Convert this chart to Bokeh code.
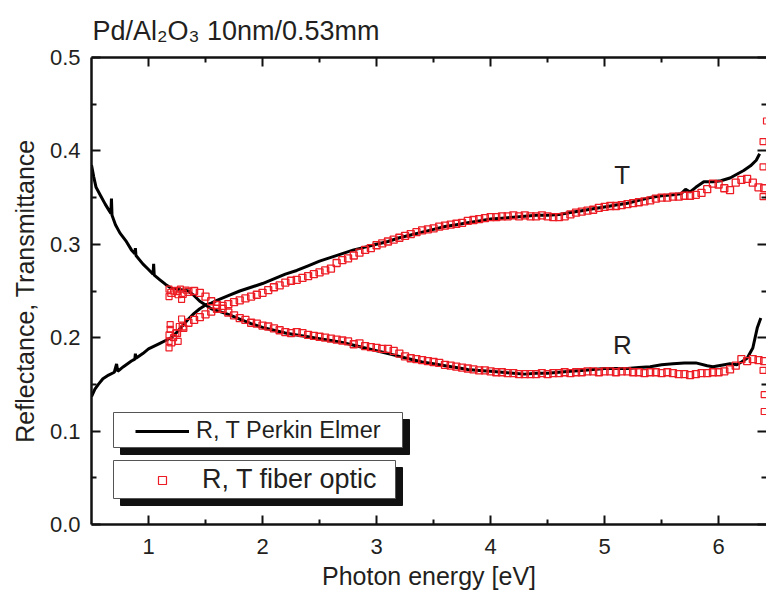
from bokeh.plotting import figure
from bokeh.models import (Range1d, FixedTicker, PrintfTickFormatter, LinearAxis,
                          Legend, LegendItem, Label, CustomJSTickFormatter)
from bokeh.embed import file_html
from bokeh.resources import INLINE

# ---------------- data ----------------
pe_R_energy = [0.50, 0.52, 0.54, 0.58, 0.62, 0.64, 0.67, 0.675, 0.68, 0.71, 0.75, 0.80,
               0.85, 0.88, 0.885, 0.89, 0.95, 1.00, 1.04, 1.045, 1.05, 1.10, 1.15, 1.20,
               1.25, 1.30, 1.35, 1.40, 1.45, 1.50, 1.55, 1.60, 1.70, 1.80, 1.90, 2.00,
               2.10, 2.20, 2.30, 2.40, 2.50, 2.60, 2.70, 2.80, 2.90, 3.00, 3.10, 3.20,
               3.30, 3.40, 3.50, 3.60, 3.70, 3.80, 3.90, 4.00, 4.10, 4.20, 4.30, 4.40,
               4.50, 4.60, 4.70, 4.80, 4.90, 5.00, 5.10, 5.20, 5.30, 5.40, 5.50, 5.60,
               5.70, 5.80, 5.90, 5.95, 6.00, 6.10, 6.16, 6.20, 6.25, 6.30, 6.34, 6.37]
pe_R = [0.385, 0.372, 0.361, 0.352, 0.343, 0.339, 0.333, 0.349, 0.331, 0.321, 0.312, 0.304,
        0.294, 0.290, 0.296, 0.288, 0.279, 0.273, 0.268, 0.279, 0.267, 0.262, 0.257, 0.253,
        0.252, 0.251, 0.250, 0.245, 0.239, 0.235, 0.231, 0.229, 0.225, 0.220, 0.215, 0.211,
        0.208, 0.205, 0.203, 0.201, 0.199, 0.197, 0.195, 0.192, 0.189, 0.186, 0.183, 0.180,
        0.177, 0.174, 0.172, 0.170, 0.168, 0.166, 0.165, 0.164, 0.163, 0.162, 0.161, 0.162,
        0.162, 0.163, 0.164, 0.165, 0.166, 0.167, 0.167, 0.167, 0.168, 0.169, 0.171, 0.172,
        0.173, 0.173, 0.170, 0.169, 0.170, 0.172, 0.171, 0.174, 0.178, 0.189, 0.211, 0.221]

pe_T_energy = [0.50, 0.53, 0.56, 0.60, 0.65, 0.70, 0.72, 0.73, 0.78, 0.85, 0.88, 0.885,
               0.89, 0.95, 1.00, 1.05, 1.10, 1.15, 1.20, 1.25, 1.30, 1.35, 1.40, 1.45,
               1.50, 1.55, 1.60, 1.70, 1.80, 1.90, 2.00, 2.10, 2.20, 2.30, 2.40, 2.50,
               2.60, 2.70, 2.80, 2.90, 3.00, 3.10, 3.20, 3.30, 3.40, 3.50, 3.60, 3.70,
               3.80, 3.90, 4.00, 4.10, 4.20, 4.30, 4.40, 4.50, 4.60, 4.70, 4.80, 4.90,
               5.00, 5.10, 5.20, 5.30, 5.40, 5.50, 5.60, 5.67, 5.71, 5.75, 5.80, 5.87,
               5.95, 6.02, 6.10, 6.16, 6.22, 6.28, 6.33, 6.36]
pe_T = [0.137, 0.145, 0.150, 0.156, 0.160, 0.163, 0.172, 0.164, 0.169, 0.175, 0.177, 0.183,
        0.178, 0.183, 0.188, 0.191, 0.194, 0.197, 0.200, 0.206, 0.213, 0.220, 0.226, 0.231,
        0.235, 0.237, 0.240, 0.245, 0.250, 0.254, 0.258, 0.263, 0.268, 0.272, 0.277, 0.282,
        0.286, 0.290, 0.294, 0.297, 0.300, 0.303, 0.307, 0.310, 0.313, 0.316, 0.319, 0.321,
        0.323, 0.325, 0.327, 0.328, 0.329, 0.330, 0.331, 0.331, 0.332, 0.334, 0.336, 0.338,
        0.340, 0.342, 0.344, 0.347, 0.350, 0.352, 0.353, 0.354, 0.359, 0.356, 0.361, 0.367,
        0.367, 0.368, 0.371, 0.375, 0.379, 0.384, 0.390, 0.397]

fiber_energy = [1.20, 1.25, 1.30, 1.35, 1.40, 1.45, 1.50, 1.55, 1.60, 1.65,
                1.70, 1.75, 1.80, 1.85, 1.90, 1.95, 2.00, 2.05, 2.10, 2.15,
                2.20, 2.25, 2.30, 2.35, 2.40, 2.45, 2.50, 2.55, 2.60, 2.65,
                2.70, 2.75, 2.80, 2.85, 2.90, 2.95, 3.00, 3.05, 3.10, 3.15,
                3.20, 3.25, 3.30, 3.35, 3.40, 3.45, 3.50, 3.55, 3.60, 3.65,
                3.70, 3.75, 3.80, 3.85, 3.90, 3.95, 4.00, 4.05, 4.10, 4.15,
                4.20, 4.25, 4.30, 4.35, 4.40, 4.45, 4.50, 4.55, 4.60, 4.65,
                4.70, 4.75, 4.80, 4.85, 4.90, 4.95, 5.00, 5.05, 5.10, 5.15,
                5.20, 5.25, 5.30, 5.35, 5.40, 5.45, 5.50, 5.55, 5.60, 5.65,
                5.70, 5.75, 5.80, 5.85, 5.90, 5.95, 6.00, 6.05, 6.10, 6.15,
                6.20, 6.25, 6.30, 6.35, 6.40]
fiber_R = [0.248, 0.250, 0.247, 0.249, 0.250, 0.248, 0.244, 0.239, 0.235, 0.231,
           0.227, 0.224, 0.221, 0.219, 0.216, 0.215, 0.213, 0.212, 0.210, 0.208,
           0.206, 0.205, 0.206, 0.205, 0.203, 0.202, 0.201, 0.200, 0.199, 0.198,
           0.197, 0.196, 0.193, 0.194, 0.191, 0.190, 0.189, 0.188, 0.188, 0.186,
           0.183, 0.180, 0.178, 0.177, 0.176, 0.175, 0.174, 0.173, 0.171, 0.170,
           0.169, 0.168, 0.167, 0.166, 0.165, 0.165, 0.164, 0.163, 0.163, 0.162,
           0.162, 0.161, 0.161, 0.161, 0.161, 0.162, 0.161, 0.162, 0.162, 0.163,
           0.162, 0.163, 0.163, 0.164, 0.164, 0.163, 0.164, 0.164, 0.163, 0.164,
           0.164, 0.163, 0.163, 0.162, 0.163, 0.163, 0.162, 0.163, 0.162, 0.161,
           0.161, 0.160, 0.161, 0.162, 0.162, 0.163, 0.163, 0.164, 0.166, 0.170,
           0.177, 0.175, 0.177, 0.176, 0.175]
fiber_T = [0.195, 0.205, 0.212, 0.216, 0.219, 0.222, 0.225, 0.228, 0.231, 0.234,
           0.236, 0.238, 0.240, 0.242, 0.244, 0.246, 0.248, 0.251, 0.254, 0.256,
           0.259, 0.261, 0.262, 0.264, 0.266, 0.268, 0.270, 0.272, 0.274, 0.280,
           0.283, 0.285, 0.288, 0.291, 0.294, 0.296, 0.299, 0.301, 0.303, 0.305,
           0.307, 0.309, 0.311, 0.313, 0.315, 0.316, 0.317, 0.319, 0.320, 0.321,
           0.322, 0.323, 0.325, 0.326, 0.327, 0.328, 0.329, 0.329, 0.330, 0.330,
           0.331, 0.330, 0.331, 0.330, 0.330, 0.331, 0.330, 0.329, 0.329, 0.330,
           0.332, 0.334, 0.335, 0.336, 0.337, 0.339, 0.340, 0.341, 0.341, 0.342,
           0.343, 0.344, 0.345, 0.346, 0.347, 0.349, 0.350, 0.350, 0.351, 0.351,
           0.352, 0.352, 0.353, 0.355, 0.359, 0.365, 0.364, 0.360, 0.358, 0.366,
           0.369, 0.370, 0.366, 0.361, 0.360]
# scattered fiber-optic points (start-up cluster near 1.2 eV and edge outliers)
fiber_extra_energy = [1.18, 1.18, 1.18, 1.19, 1.19, 1.22, 1.24, 1.26, 1.27, 1.29, 1.31,
                      1.18, 1.18, 1.22, 1.26, 1.28, 1.29, 1.33,
                      6.42, 6.39, 6.39, 6.39, 6.39, 6.40, 6.40]
fiber_extra_value = [0.189, 0.196, 0.203, 0.209, 0.214, 0.200, 0.205, 0.196, 0.212, 0.220, 0.210,
                     0.252, 0.244, 0.250, 0.246, 0.252, 0.241, 0.251,
                     0.432, 0.410, 0.383, 0.351, 0.165, 0.139, 0.121]

x_ticks = [1, 2, 3, 4, 5, 6]
x_minor = [1.5, 2.5, 3.5, 4.5, 5.5]
y_ticks = [0.0, 0.1, 0.2, 0.3, 0.4, 0.5]
y_minor = [0.05, 0.15, 0.25, 0.35, 0.45]

title_text = "Pd/Al\u2082O\u2083 10nm/0.53mm"
x_label = "Photon energy [eV]"
y_label = "Reflectance, Transmittance"
legend_pe = "R, T Perkin Elmer"
legend_fiber = "R, T fiber optic"

# ---------------- layout ----------------
FONT = "Liberation Sans"
TXT = "#231f20"
RED = "#ed1c24"
X0, X1 = 0.5, 6.42
Y0, Y1 = 0.0, 0.5
FL, FT, FW, FH = 91, 57, 675, 467
W, H = 766, 597


def dx(px):
    return X0 + (px - FL) * (X1 - X0) / FW


def dy(py):
    return Y1 - (py - FT) * (Y1 - Y0) / FH


p = figure(frame_width=FW, frame_height=FH,
           x_range=Range1d(X0, X1), y_range=Range1d(Y0, Y1),
           output_backend="svg", toolbar_location=None,
           min_border_left=FL, min_border_top=FT, min_border_right=0,
           min_border_bottom=H - FT - FH)
p.outline_line_color = None
p.grid.visible = False
p.background_fill_color = "white"
p.border_fill_color = "white"

p.title.text = title_text
p.title.text_font = FONT
p.title.text_font_size = "27px"
p.title.text_font_style = "normal"
p.title.text_color = TXT
p.title.align = "left"
p.title.offset = 1
p.title.vertical_align = "middle"
p.title.standoff = 22

above = LinearAxis()
right = LinearAxis()
p.add_layout(above, "above")
p.add_layout(right, "right")

xt = FixedTicker(ticks=x_ticks, minor_ticks=x_minor)
yt = FixedTicker(ticks=y_ticks, minor_ticks=y_minor)
for ax in p.xaxis:
    ax.ticker = xt
for ax in p.yaxis:
    ax.ticker = yt

for ax in p.axis:
    ax.axis_line_width = 2.5
    ax.axis_line_color = "#111111"
    ax.major_tick_in = 9
    ax.major_tick_out = 0
    ax.minor_tick_in = 5
    ax.minor_tick_out = 0
    ax.major_tick_line_width = 2
    ax.minor_tick_line_width = 2
    ax.major_tick_line_color = "#111111"
    ax.minor_tick_line_color = "#111111"
    ax.major_label_text_font = FONT
    ax.major_label_text_font_size = "22px"
    ax.major_label_text_color = TXT
    ax.axis_label_text_font = FONT
    ax.axis_label_text_font_size = "25px"
    ax.axis_label_text_font_style = "normal"
    ax.axis_label_text_color = TXT

for ax in (above, right):
    ax.formatter = CustomJSTickFormatter(code="return ''")
    ax.major_label_standoff = 0
    ax.major_label_text_font_size = "1px"
right.axis_line_color = None

bottom = p.below[0]
left = p.left[0]
bottom.formatter = PrintfTickFormatter(format="%d")
left.formatter = PrintfTickFormatter(format="%.1f")
bottom.axis_label = x_label
left.axis_label = y_label
bottom.major_label_standoff = 14
bottom.axis_label_standoff = 5
left.major_label_standoff = 11
left.axis_label_standoff = 8

# ---------------- data glyphs ----------------
r_pe_R = p.line(pe_R_energy, pe_R, line_color="black", line_width=3)
r_pe_T = p.line(pe_T_energy, pe_T, line_color="black", line_width=3)
r_f_R = p.scatter(fiber_energy, fiber_R, marker="square", size=7,
                  line_color=RED, fill_color=None, line_width=1.3)
r_f_T = p.scatter(fiber_energy, fiber_T, marker="square", size=7,
                  line_color=RED, fill_color=None, line_width=1.3)
r_f_X = p.scatter(fiber_extra_energy, fiber_extra_value, marker="square", size=6,
                  line_color=RED, fill_color=None, line_width=1.2)

# curve labels
for txt, yv in (("T", 0.374), ("R", 0.192)):
    p.add_layout(Label(x=5.155, y=yv, text=txt, text_font=FONT, text_font_size="26px",
                       text_color=TXT, text_align="center", text_baseline="middle"))

# ---------------- legend boxes with shadows ----------------
boxes = [(113, 402, 412, 447), (113, 395, 460, 498)]
SH = 7
for (l, r, t, b) in boxes:
    p.quad(left=dx(l + SH), right=dx(r + SH), top=dy(t + SH), bottom=dy(b + SH),
           fill_color="#111111", line_color="#111111")
    p.quad(left=dx(l), right=dx(r), top=dy(t), bottom=dy(b),
           fill_color="white", line_color="#555555", line_width=1)

leg1 = Legend(items=[LegendItem(label=legend_pe, renderers=[r_pe_R])],
              location=(135 - FL, 524 - 430 - 14), padding=0, margin=0, spacing=0,
              glyph_width=54, glyph_height=20, label_standoff=7, label_height=20,
              border_line_color=None, background_fill_alpha=0,
              label_text_font=FONT, label_text_font_size="23.5px", label_text_color=TXT)
leg2 = Legend(items=[LegendItem(label=legend_fiber, renderers=[r_f_X])],
              location=(132 - FL, 524 - 479 - 16), padding=0, margin=0, spacing=0,
              glyph_width=60, glyph_height=20, label_standoff=10, label_height=20,
              border_line_color=None, background_fill_alpha=0,
              label_text_font=FONT, label_text_font_size="27px", label_text_color=TXT)
p.add_layout(leg1, "center")
p.add_layout(leg2, "center")

open("out.html", "w").write(file_html(p, INLINE))
